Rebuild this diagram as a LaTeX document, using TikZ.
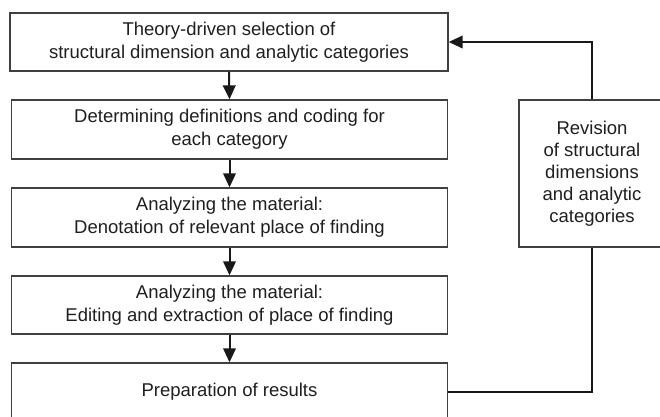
\documentclass[tikz,border=0pt]{standalone}
\usepackage{fontspec}
\setmainfont{Liberation Sans}
\usetikzlibrary{arrows.meta}
\begin{document}
\begin{tikzpicture}[x=1pt,y=-1pt,
  box/.style={draw=black!75,line width=1.3pt,rectangle,inner sep=0pt,align=center,
    text=black!88,font=\fontsize{18.5}{23}\selectfont},
  conn/.style={draw=black!90,line width=2pt},
  arr/.style={conn,-{Triangle[width=12.5pt,length=14pt]}}]
\useasboundingbox (0,0) rectangle (660,416);
\clip (0,0) rectangle (660,416);
\fill[white] (0,0) rectangle (660,416);
\node[box,minimum width=438pt,minimum height=58pt] (b1) at (229,42) {Theory-driven selection of\\structural dimension and analytic categories};
\node[box,minimum width=436pt,minimum height=59pt] (b2) at (229.5,129.5) {Determining definitions and coding for\\each category};
\node[box,minimum width=436pt,minimum height=59pt] (b3) at (229.5,217.5) {Analyzing the material:\\Denotation of relevant place of finding};
\node[box,minimum width=436pt,minimum height=58pt] (b4) at (229.5,305) {Analyzing the material:\\Editing and extraction of place of finding};
\node[box,minimum width=436pt,minimum height=58pt] (b5) at (229.5,392) {Preparation of results};
\node[box,minimum width=146pt,minimum height=147pt,font=\fontsize{18.5}{22}\selectfont] (rev) at (592,173.5) {Revision\\of structural\\dimensions\\and analytic\\categories};
\draw[arr] (b1.south) -- (b2.north);
\draw[arr] (b2.south) -- (b3.north);
\draw[arr] (b3.south) -- (b4.north);
\draw[arr] (b4.south) -- (b5.north);
\draw[arr] (rev.north) |- (b1.east);
\draw[conn] (b5.east) -| (rev.south);
\end{tikzpicture}
\end{document}
